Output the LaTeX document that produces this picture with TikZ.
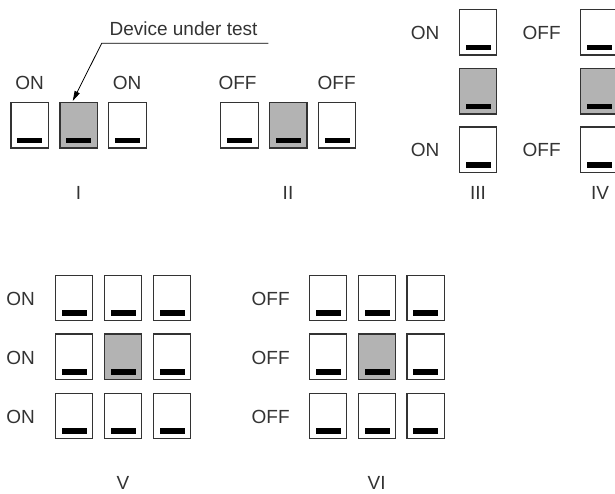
\documentclass[tikz,border=0pt]{standalone}
\usepackage{fontspec}
\setmainfont{Liberation Sans}
\usetikzlibrary{arrows.meta}
\definecolor{ink}{HTML}{333333}
\definecolor{dutgray}{HTML}{B3B3B3}
\begin{document}
\begin{tikzpicture}[x=1pt,y=-1pt,
  sw/.style={draw=ink, line width=1.3pt, fill=white, rectangle, inner sep=0pt,
    minimum width=37.5pt, minimum height=45.5pt,
    path picture={\fill[black] ([xshift=-12.5pt,yshift=4.7pt]path picture bounding box.south) rectangle ++(25pt,5.7pt);}},
  dut/.style={sw, fill=dutgray},
  lbl/.style={anchor=base, text=ink, font=\fontsize{19}{21}\selectfont, inner sep=0pt},
  callout/.style={draw=black, line width=0.8pt}]
\path[clip] (0,0) rectangle (615,494);
% Group I
\node[sw]  (I1) at (29.75,125.35) {};
\node[dut] (I2) at (78.75,125.35) {};
\node[sw]  (I3) at (127.45,125.35) {};
\node[lbl] (I1l) at (29.5,90) {ON};
\node[lbl] (I3l) at (127,90) {ON};
\node[lbl] (In) at (78.5,199.5) {I};
% callout
\node[lbl] (dev) at (183.5,36) {Device under test};
\coordinate (c1) at (268.3,43.3);
\coordinate (c2) at (101.7,43.3);
\coordinate (c3) at ([xshift=-6pt,yshift=1pt]I2.north);
\draw[callout, -{Triangle[length=10pt,width=5.5pt]}] (c1) -- (c2) -- (c3);
% Group II
\node[sw]  (II1) at (239.5,125.35) {};
\node[dut] (II2) at (288.2,125.35) {};
\node[sw]  (II3) at (337,125.35) {};
\node[lbl] (II1l) at (237.5,90) {OFF};
\node[lbl] (II3l) at (336.7,90) {OFF};
\node[lbl] (IIn) at (288,199.5) {II};
% Group III
\node[sw]  (III1) at (478,32.2) {};
\node[dut] (III2) at (478,91.2) {};
\node[sw]  (III3) at (478,149.9) {};
\node[lbl] (III1l) at (425,39.3) {ON};
\node[lbl] (III3l) at (425,156.7) {ON};
\node[lbl] (IIIn) at (478,199.5) {III};
% Group IV
\node[sw]  (IV1) at (599.5,32.2) {};
\node[dut] (IV2) at (599.5,91.2) {};
\node[sw]  (IV3) at (599.5,149.9) {};
\node[lbl] (IV1l) at (541.7,39.3) {OFF};
\node[lbl] (IV3l) at (541.7,156.7) {OFF};
\node[lbl] (IVn) at (600,199.5) {IV};
% Group V
\foreach \c/\x in {1/74,2/123,3/172}{
  \foreach \r/\y in {1/298,2/356.8,3/416}{
    \node[sw] (V\r\c) at (\x,\y) {};
  }
}
\node[dut] (V22) at (123,356.8) {};
\node[lbl] (V1l) at (20.7,305.3) {ON};
\node[lbl] (V2l) at (20.7,364.3) {ON};
\node[lbl] (V3l) at (20.7,423.3) {ON};
\node[lbl] (Vn) at (123,489.5) {V};
% Group VI
\foreach \c/\x in {1/328,2/377,3/425.7}{
  \foreach \r/\y in {1/298,2/356.8,3/416}{
    \node[sw] (VI\r\c) at (\x,\y) {};
  }
}
\node[dut] (VI22) at (377,356.8) {};
\node[lbl] (VI1l) at (270.7,305.3) {OFF};
\node[lbl] (VI2l) at (270.7,364.3) {OFF};
\node[lbl] (VI3l) at (270.7,423.3) {OFF};
\node[lbl] (VIn) at (376.7,489.5) {VI};
\end{tikzpicture}
\end{document}
